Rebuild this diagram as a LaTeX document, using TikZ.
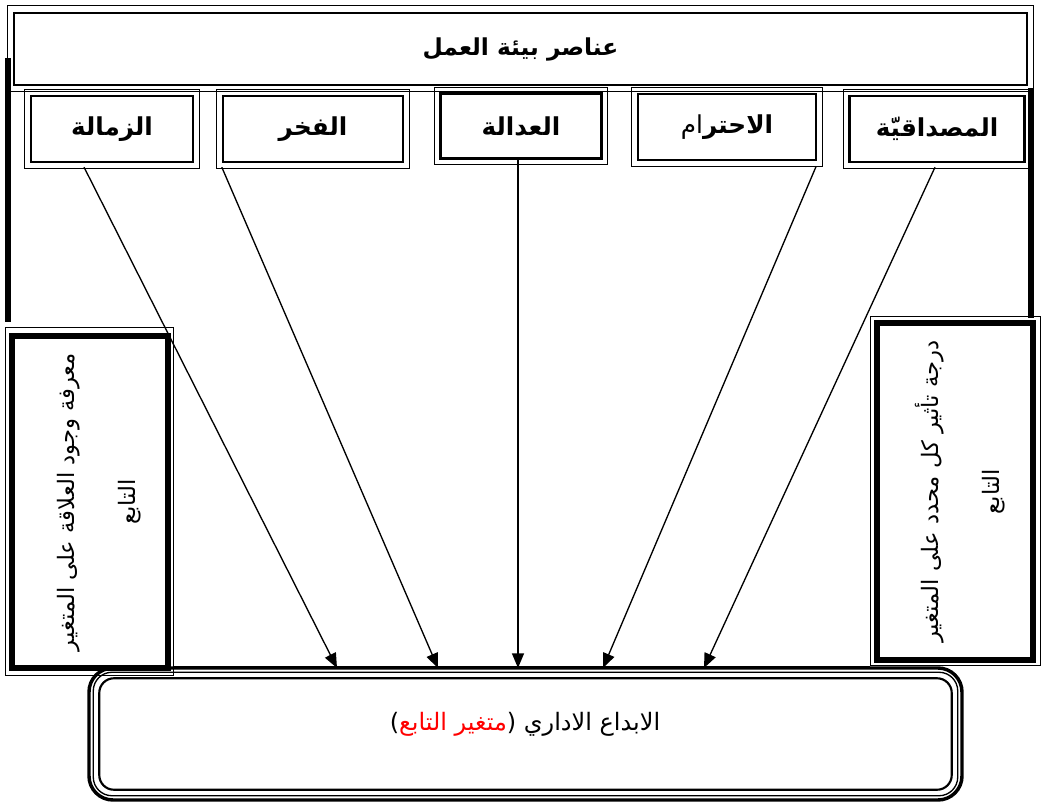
\documentclass[tikz,border=0pt]{standalone}
\usepackage{fontspec}
\usetikzlibrary{arrows.meta,calc}
\TeXXeTstate=1
\newfontfamily\arabicfont[Script=Arabic]{DejaVu Sans}
\newfontfamily\parenfont{DejaVu Sans}
\begin{document}
\begin{tikzpicture}[x=0.75pt,y=-0.75pt,
  innerbox/.style={draw,line width=1.8pt,inner sep=0pt},
  outerframe/.style={draw,line width=0.9pt},
  sidebox/.style={draw,line width=3.8pt,inner sep=0pt},
  label/.style={font=\arabicfont\bfseries\fontsize{18.5}{22}\selectfont},
  vtext/.style={font=\arabicfont\fontsize{17}{46}\selectfont,rotate=90,align=center},
  arr/.style={line width=1pt,-{Triangle[length=11pt,width=9pt]}},
  sideline/.style={line width=3.8pt}
]
\useasboundingbox (0,0) rectangle (1043,803);
% top box
\node[innerbox,minimum width=759.75pt,minimum height=54pt,font=\arabicfont\bfseries\fontsize{17.5}{20}\selectfont] (top) at (520.5,49) {\beginR عناصر بيئة العمل\endR};
\draw[outerframe] ($(top.north west)+(-5,-6)$) rectangle ($(top.south east)+(5,5)$);
% side thick lines
\draw[sideline] (8,58) -- (8,322);
\draw[sideline] (1031,88) -- (1031,318);
% five element boxes
\node[innerbox,minimum width=121.5pt,minimum height=49.5pt,label] (b1) at (112,129) {\beginR الزمالة\endR};
\node[innerbox,minimum width=135pt,minimum height=49.5pt,label] (b2) at (313,129) {\beginR الفخر\endR};
\node[innerbox,minimum width=120.75pt,minimum height=48.75pt,label] (b3) at (521,126) {\beginR العدالة\endR};
\node[innerbox,minimum width=133.5pt,minimum height=49.5pt,label] (b4) at (727,127) {\beginR{\bfseries الاحتر}{\mdseries ام}\endR};
\node[innerbox,minimum width=131.25pt,minimum height=49.5pt,label] (b5) at (937,129) {\beginR المصداقيّة\endR};
\foreach \b in {b1,b2,b3,b4,b5}{
  \draw[outerframe] ($(\b.north west)+(-5,-5)$) rectangle ($(\b.south east)+(5,5)$);
}
% side boxes
\node[sidebox,minimum width=117pt,minimum height=249pt] (lb) at (90,502) {};
\node[vtext] (lbt) at ($(lb.center)+(9,0)$) {\beginR معرفة وجود العلاقة على المتغير\endR\\ \beginR التابع\endR};
\draw[outerframe] ($(lb.north west)+(-4,-6)$) rectangle ($(lb.south east)+(3,5)$);
\node[sidebox,minimum width=117pt,minimum height=252.75pt] (rb) at (955,491.5) {};
\node[vtext] (rbt) at ($(rb.center)+(5,0)$) {\beginR درجة تأثير كل محدد على المتغير\endR\\ \beginR التابع\endR};
\draw[outerframe] ($(rb.north west)+(-4,-4)$) rectangle ($(rb.south east)+(5,3)$);
% horizontal line between side boxes
\draw[line width=0.9pt] (173,667) -- (870,667);
% bottom box
\node[draw,line width=2.6pt,rounded corners=18pt,minimum width=654.75pt,minimum height=99pt] (bot) at (525.5,734) {};
\draw[line width=1pt,rounded corners=14pt] ($(bot.north west)+(6,6)$) rectangle ($(bot.south east)+(-6,-6)$);
\draw[line width=1.6pt,rounded corners=11pt] ($(bot.north west)+(12,12)$) rectangle ($(bot.south east)+(-12,-12)$);
\node[font=\arabicfont\fontsize{18}{22}\selectfont,inner sep=0pt] (bott) at (525,724) {{\parenfont(}\textcolor{red}{\beginR متغير التابع\endR}{\parenfont)} \beginR الابداع الاداري\endR};
% arrows
\coordinate (t1) at (337,668);
\coordinate (t2) at (438,668);
\coordinate (t3) at (518,668);
\coordinate (t4) at (603,668);
\coordinate (t5) at (704,668);
\draw[arr] ($(b1.south west)!0.33!(b1.south east)+(0,4)$) -- (t1);
\draw[arr] ($(b2.south west)+(0,4)$) -- (t2);
\draw[arr] ($(b3.south)+(-3,0)$) -- (t3);
\draw[arr] ($(b4.south east)+(-1,5)$) -- (t4);
\draw[arr] ($(b5.south)+(-2,4)$) -- (t5);
\end{tikzpicture}
\end{document}
